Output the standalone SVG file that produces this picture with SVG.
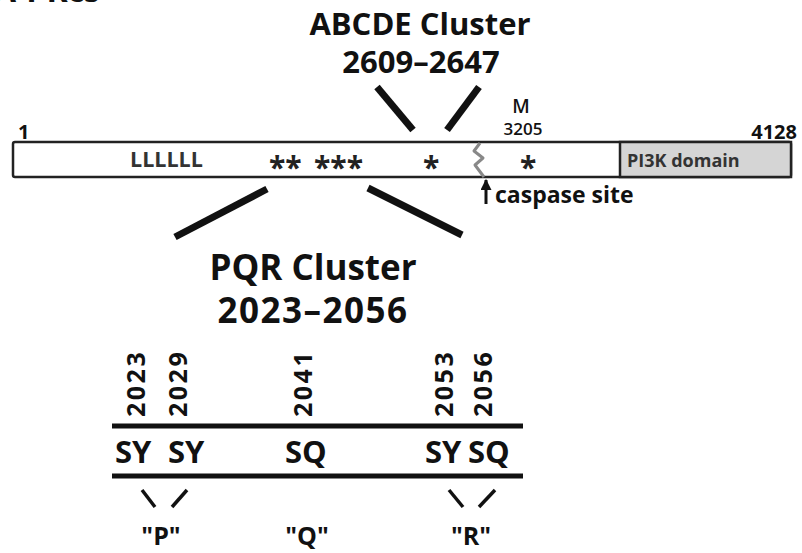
<svg xmlns="http://www.w3.org/2000/svg" width="802" height="553" viewBox="0 0 802 553">
  <style>
    text { font-family: "Open Sans", "Noto Sans", "DejaVu Sans", sans-serif; font-weight: bold; fill: #111; }
    .big { font-size: 31px; }
    .mid { font-size: 20px; }
    .lbl { font-size: 18px; fill: #333; }
    .num { font-size: 25px; letter-spacing: 2.5px; }
    .res { font-size: 31px; }
    .tag { font-size: 25px; }
    .star { font-size: 30px; fill: #222; }
    .beam { stroke: #111; stroke-width: 7; stroke-linecap: butt; fill: none; }
    .rule { stroke: #111; stroke-width: 5; fill: none; }
    .tick { stroke: #111; stroke-width: 3.5; fill: none; }
  </style>
  <defs>
    <marker id="arrowhead" viewBox="0 0 10 10" refX="9" refY="5" markerWidth="11" markerHeight="11" orient="auto" markerUnits="userSpaceOnUse">
      <path d="M0,0 L10,5 L0,10 Z" fill="#111"/>
    </marker>
  </defs>
  <rect width="802" height="553" fill="#fff"/>

  <!-- title, running off the top edge -->
  <text id="title" x="100" y="2" text-anchor="end" style="font-size:32px">DNA-PKcs</text>

  <!-- full-length protein bar -->
  <g id="protein">
    <rect x="13" y="142" width="778" height="35" rx="2" fill="#fff" stroke="#222" stroke-width="2.5"/>
    <rect x="620" y="142" width="171" height="35" fill="#d5d5d5" stroke="#222" stroke-width="2.5"/>
    <text class="mid" x="18" y="139">1</text>
    <text class="mid" x="797" y="139" text-anchor="end">4128</text>
    <text class="lbl" x="130" y="167" style="font-size:21.5px">LLLLLL</text>
    <text class="lbl" x="627" y="167">PI3K domain</text>
    <text class="star" x="269" y="178">**</text>
    <text class="star" x="314" y="178">***</text>
    <text class="star" x="423" y="178">*</text>
    <text class="star" x="520" y="178">*</text>
  </g>

  <!-- caspase cleavage -->
  <g id="caspase">
    <path d="M480,143 L474,151 L483,158 L475,165 L484,177" fill="none" stroke="#888" stroke-width="3" stroke-linejoin="round"/>
    <line x1="486" y1="204" x2="486" y2="180" stroke="#111" stroke-width="3" marker-end="url(#arrowhead)"/>
    <text class="mid" x="495" y="203" style="font-size:23px">caspase site</text>
  </g>

  <!-- M3205 site -->
  <g id="site-m">
    <text x="521" y="113" text-anchor="middle" style="font-size:19px;font-weight:600">M</text>
    <text x="523" y="135" text-anchor="middle" style="font-size:17px;font-weight:600">3205</text>
  </g>

  <!-- ABCDE cluster callout -->
  <g id="abcde">
    <text class="big" x="420" y="35" text-anchor="middle">ABCDE Cluster</text>
    <text class="big" x="421" y="73" text-anchor="middle">2609–2647</text>
  </g>

  <!-- PQR cluster callout -->
  <g id="pqr">
    <text x="313" y="280" text-anchor="middle" style="font-size:35px">PQR Cluster</text>
    <text x="313" y="323" text-anchor="middle" style="font-size:35px;letter-spacing:1.5px">2023–2056</text>
  </g>

  <!-- callout beams -->
  <g id="connectors">
    <line class="beam" x1="377" y1="87" x2="413" y2="130"/>
    <line class="beam" x1="479" y1="87" x2="447" y2="130"/>
    <line class="beam" x1="175" y1="237" x2="267" y2="189"/>
    <line class="beam" x1="368" y1="188" x2="462" y2="235"/>
    <line class="tick" x1="142" y1="490" x2="155" y2="507"/>
    <line class="tick" x1="187" y1="490" x2="172" y2="507"/>
    <line class="tick" x1="449" y1="490" x2="463" y2="507"/>
    <line class="tick" x1="495" y1="490" x2="479" y2="507"/>
  </g>

  <!-- PQR residue detail -->
  <g id="residues">
    <line class="rule" x1="112" y1="426" x2="523" y2="426"/>
    <line class="rule" x1="112" y1="476" x2="523" y2="476"/>
    <text class="num" transform="translate(145,417) rotate(-90)">2023</text>
    <text class="num" transform="translate(187,417) rotate(-90)">2029</text>
    <text class="num" transform="translate(312,417) rotate(-90)">2041</text>
    <text class="num" transform="translate(453,417) rotate(-90)">2053</text>
    <text class="num" transform="translate(492,417) rotate(-90)">2056</text>
    <text class="res" x="115" y="463">SY</text>
    <text class="res" x="168" y="463">SY</text>
    <text class="res" x="285" y="463">SQ</text>
    <text class="res" x="425" y="463">SY</text>
    <text class="res" x="468" y="463">SQ</text>
  </g>

  <!-- motif names -->
  <g id="motifs">
    <text class="tag" x="161" y="545" text-anchor="middle">"P"</text>
    <text class="tag" x="307" y="545" text-anchor="middle">"Q"</text>
    <text class="tag" x="471" y="545" text-anchor="middle">"R"</text>
  </g>
</svg>
